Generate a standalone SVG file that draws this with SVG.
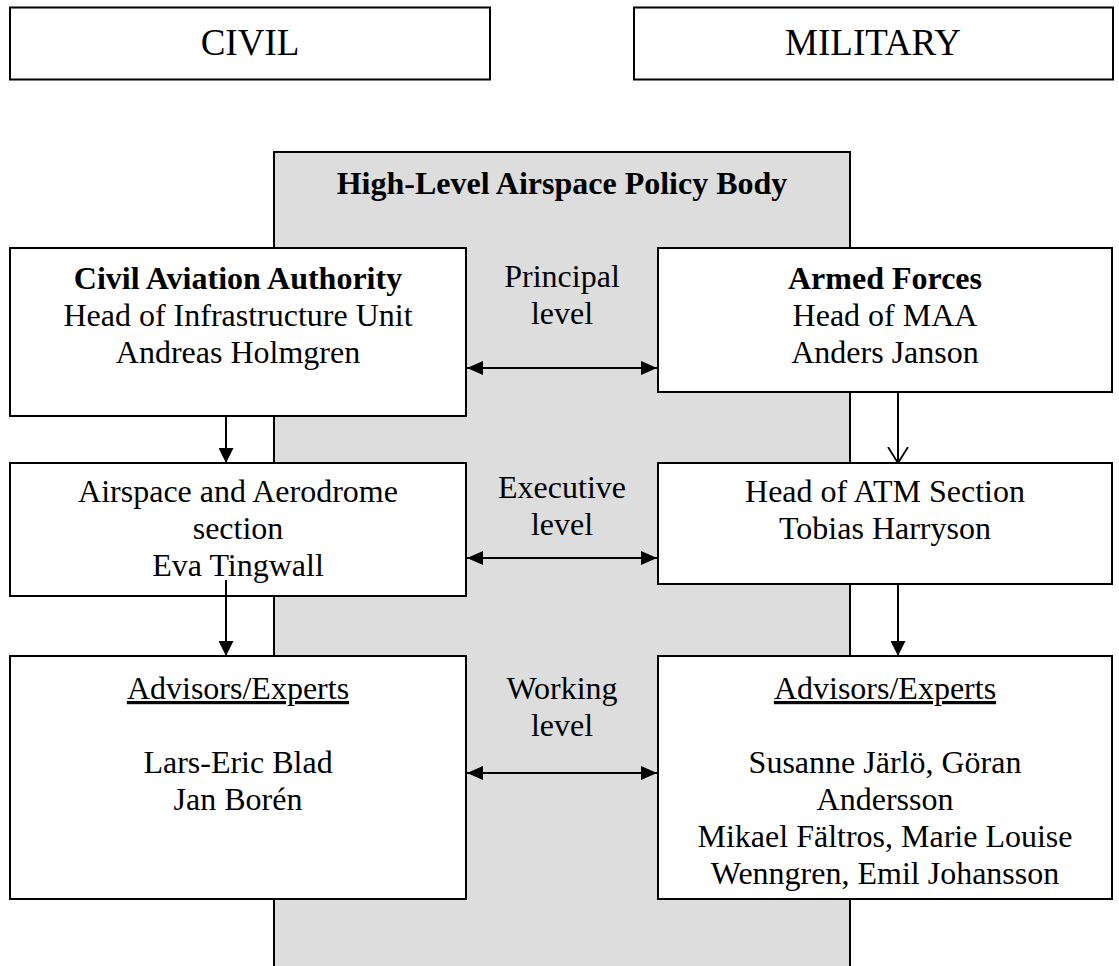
<svg xmlns="http://www.w3.org/2000/svg" width="1119" height="966" viewBox="0 0 1119 966">
<style>
.box{fill:#fff;stroke:#000;stroke-width:2}
.panel{fill:#dddddd;stroke:#000;stroke-width:2}
.t{font-family:"Liberation Serif","Times New Roman",serif;font-size:32px;fill:#000;text-anchor:middle}
.big{font-size:37px}
.b{font-weight:bold}
.u{text-decoration:underline}
.ln{stroke:#000;stroke-width:2;fill:none}
</style>
<defs>
<marker id="fa" viewBox="0 0 16 14" refX="16" refY="7" markerWidth="16" markerHeight="14" markerUnits="userSpaceOnUse" orient="auto-start-reverse">
<path d="M0,0 L16,7 L0,14 Z" fill="#000"/>
</marker>
<marker id="fv" viewBox="0 0 15 15" refX="15" refY="7.5" markerWidth="15" markerHeight="15" markerUnits="userSpaceOnUse" orient="auto">
<path d="M0,0 L15,7.5 L0,15 Z" fill="#000"/>
</marker>
<marker id="ov" viewBox="0 0 17 22" refX="16" refY="11" markerWidth="17" markerHeight="22" markerUnits="userSpaceOnUse" orient="auto">
<path d="M0,1 L16,11 L0,21" fill="none" stroke="#000" stroke-width="1.8"/>
</marker>
</defs>
<g id="civil">
<rect class="box" x="10" y="7.5" width="480" height="72"/>
<text class="t big" x="250" y="55">CIVIL</text>
</g>
<g id="military">
<rect class="box" x="634" y="7.5" width="479" height="72"/>
<text class="t big" x="873" y="55">MILITARY</text>
</g>
<g id="policy-body">
<rect class="panel" x="274" y="152" width="576" height="830"/>
<text class="t b" x="562" y="194">High-Level Airspace Policy Body</text>
<text class="t" x="562" y="287">Principal</text>
<text class="t" x="562" y="324">level</text>
<text class="t" x="562" y="498">Executive</text>
<text class="t" x="562" y="535">level</text>
<text class="t" x="562" y="699">Working</text>
<text class="t" x="562" y="736">level</text>
</g>
<g id="caa">
<rect class="box" x="10" y="248" width="456" height="168"/>
<text class="t b" x="238" y="289">Civil Aviation Authority</text>
<text class="t" x="238" y="326">Head of Infrastructure Unit</text>
<text class="t" x="238" y="363">Andreas Holmgren</text>
</g>
<g id="armed-forces">
<rect class="box" x="658" y="248" width="454" height="144"/>
<text class="t b" x="885" y="289">Armed Forces</text>
<text class="t" x="885" y="326">Head of MAA</text>
<text class="t" x="885" y="363">Anders Janson</text>
</g>
<g id="airspace-section">
<rect class="box" x="10" y="463" width="456" height="133"/>
<text class="t" x="238" y="502">Airspace and Aerodrome</text>
<text class="t" x="238" y="539">section</text>
<text class="t" x="238" y="576">Eva Tingwall</text>
</g>
<g id="atm-section">
<rect class="box" x="658" y="463" width="454" height="121"/>
<text class="t" x="885" y="502">Head of ATM Section</text>
<text class="t" x="885" y="539">Tobias Harryson</text>
</g>
<g id="civil-experts">
<rect class="box" x="10" y="656" width="456" height="243"/>
<text class="t u" x="238" y="699">Advisors/Experts</text>
<text class="t" x="238" y="773">Lars-Eric Blad</text>
<text class="t" x="238" y="810">Jan Borén</text>
</g>
<g id="military-experts">
<rect class="box" x="658" y="656" width="454" height="243"/>
<text class="t u" x="885" y="699">Advisors/Experts</text>
<text class="t" x="885" y="773">Susanne Järlö, Göran</text>
<text class="t" x="885" y="810">Andersson</text>
<text class="t" x="885" y="847">Mikael Fältros, Marie Louise</text>
<text class="t" x="885" y="884">Wenngren, Emil Johansson</text>
</g>
<g id="connectors">
<line class="ln" x1="467" y1="368" x2="657" y2="368" marker-start="url(#fa)" marker-end="url(#fa)"/>
<line class="ln" x1="467" y1="558" x2="657" y2="558" marker-start="url(#fa)" marker-end="url(#fa)"/>
<line class="ln" x1="467" y1="773" x2="657" y2="773" marker-start="url(#fa)" marker-end="url(#fa)"/>
<line class="ln" x1="226" y1="416" x2="226" y2="463" marker-end="url(#fv)"/>
<line class="ln" x1="898" y1="392" x2="898" y2="463" marker-end="url(#ov)"/>
<line class="ln" x1="226" y1="580" x2="226" y2="656" marker-end="url(#fv)"/>
<line class="ln" x1="898" y1="584" x2="898" y2="656" marker-end="url(#fv)"/>
</g>
</svg>
